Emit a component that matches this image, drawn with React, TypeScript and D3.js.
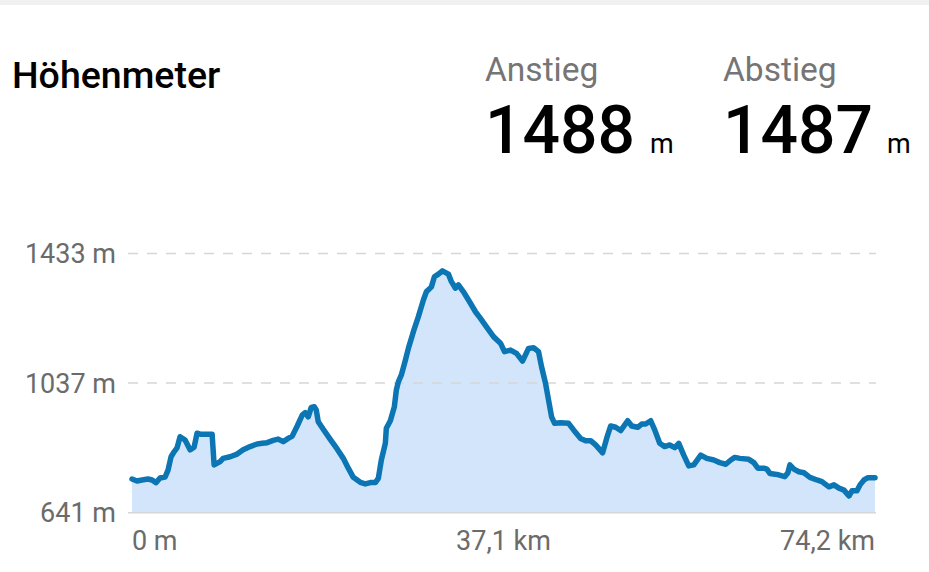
import React from "react";
import * as d3 from "d3";

const distKm = [
  0.0, 0.5, 1.0, 1.6, 2.0, 2.4, 2.8, 3.3, 3.6, 3.9,
  4.2, 4.5, 4.8, 5.3, 5.8, 6.2, 6.5, 6.8, 8.0, 8.2,
  8.8, 9.1, 9.8, 10.5, 11.1, 11.8, 12.5, 13.0, 13.5, 14.1,
  14.6, 15.1, 15.6, 16.0, 16.5, 17.0, 17.3, 17.6, 17.9, 18.2,
  18.4, 18.6, 19.1, 19.8, 20.5, 21.1, 21.6, 22.1, 22.8, 23.3,
  23.8, 24.3, 24.6, 24.9, 25.3, 25.4, 25.8, 26.2, 26.4, 26.6,
  26.9, 27.3, 27.6, 28.1, 28.6, 29.1, 29.4, 29.9, 30.2, 30.6,
  31.0, 31.6, 31.9, 32.3, 32.6, 33.1, 33.8, 34.3, 34.8, 35.4,
  36.1, 36.8, 37.2, 37.8, 38.4, 39.0, 39.6, 40.1, 40.6, 40.9,
  41.3, 41.6, 41.9, 42.2, 42.8, 43.6, 44.1, 44.8, 45.3, 45.8,
  46.3, 47.0, 47.4, 47.8, 48.3, 48.8, 49.5, 49.9, 50.5, 50.9,
  51.3, 51.8, 52.2, 52.7, 53.2, 53.7, 54.2, 54.6, 55.1, 55.6,
  56.1, 56.8, 57.4, 58.1, 58.7, 59.3, 59.8, 60.2, 60.7, 61.6,
  62.1, 62.5, 63.1, 63.4, 63.7, 64.4, 65.2, 65.5, 65.7, 66.1,
  66.6, 67.1, 67.7, 68.4, 68.9, 69.6, 70.1, 70.6, 71.1, 71.6,
  71.9, 72.4, 72.7, 73.1, 73.5, 74.1, 74.2,
];

const elevM = [
  744, 738, 741, 744, 741, 733, 747, 750, 771, 812,
  827, 839, 873, 863, 833, 841, 884, 881, 881, 787,
  797, 807, 812, 820, 833, 843, 851, 853, 855, 862,
  866, 858, 868, 875, 906, 939, 947, 934, 963, 965,
  955, 919, 896, 865, 835, 807, 777, 749, 734, 729,
  733, 733, 746, 802, 853, 899, 922, 965, 1016, 1041,
  1062, 1107, 1143, 1194, 1240, 1291, 1316, 1331, 1362, 1370,
  1380, 1370, 1347, 1327, 1337, 1316, 1281, 1255, 1235, 1209,
  1179, 1159, 1133, 1138, 1128, 1104, 1143, 1145, 1133, 1087,
  1036, 985, 934, 914, 916, 914, 894, 868, 861, 861,
  848, 824, 868, 906, 902, 892, 922, 906, 902, 912,
  912, 922, 894, 853, 843, 848, 840, 853, 817, 784,
  787, 817, 807, 802, 794, 789, 802, 810, 807, 804,
  794, 777, 777, 774, 761, 758, 751, 763, 787, 774,
  766, 763, 749, 741, 736, 720, 726, 716, 710, 692,
  708, 708, 726, 741, 748, 748, 748,
];

const yTicks = [641, 1037, 1433];
const xTicks = [0, 37.1, 74.2];
const xTickLabels = ["0 m", "37,1 km", "74,2 km"];

const title = "Höhenmeter";
const statLabels = ["Anstieg", "Abstieg"];
const statValues = [1488, 1487];
const statUnit = "m";

const W = 929;
const H = 572;
const FONT = "Roboto, 'Noto Sans', sans-serif";

export default function App() {
  const x = d3.scaleLinear().domain([0, 74.2]).range([132, 875]);
  const y = d3.scaleLinear().domain([641, 1433]).range([512.7, 253.5]);

  const pts: [number, number][] = distKm.map((d, i) => [d, elevM[i]]);

  const area = d3
    .area<[number, number]>()
    .x((d) => x(d[0]))
    .y0(y(641))
    .y1((d) => y(d[1]));
  const line = d3
    .line<[number, number]>()
    .x((d) => x(d[0]))
    .y((d) => y(d[1]));

  const statX = [485, 723];
  const unitX = [650, 887];

  return (
    <svg
      width={W}
      height={H}
      style={{ position: "absolute", left: 0, top: 0, background: "#fff" }}
      fontFamily={FONT}
    >
      <rect x={0} y={0} width={W} height={5} fill="#f1f1f1" />

      <text x={12} y={88} fontSize={37.5} fontWeight={500} fill="#000">
        {title}
      </text>

      {statLabels.map((l, i) => (
        <g key={l}>
          <text x={statX[i]} y={81} fontSize={33.5} fill="#757575">
            {l}
          </text>
          <text x={statX[i]} y={153} fontSize={66} fontWeight={500} fill="#000">
            {statValues[i]}
          </text>
          <text x={unitX[i]} y={153} fontSize={27} fill="#000">
            {statUnit}
          </text>
        </g>
      ))}

      <path d={area(pts) || ""} fill="#d3e5fb" />

      {yTicks.map((t, i) => (
        <g key={t}>
          <line
            x1={128}
            x2={876}
            y1={y(t)}
            y2={y(t)}
            stroke="#d6d6d6"
            strokeWidth={1.5}
            strokeDasharray={i === 0 ? "none" : "10 9"}
          />
          <text
            x={116}
            y={y(t) + 9.5}
            fontSize={27}
            textAnchor="end"
            fill="#6b6b6b"
          >
            {t} m
          </text>
        </g>
      ))}

      <path
        d={line(pts) || ""}
        fill="none"
        stroke="#0b76b3"
        strokeWidth={5.5}
        strokeLinejoin="round"
        strokeLinecap="round"
      />

      {xTicks.map((t, i) => (
        <text
          key={t}
          x={x(t)}
          y={550}
          fontSize={27}
          textAnchor={i === 0 ? "start" : i === xTicks.length - 1 ? "end" : "middle"}
          fill="#6b6b6b"
        >
          {xTickLabels[i]}
        </text>
      ))}
    </svg>
  );
}
